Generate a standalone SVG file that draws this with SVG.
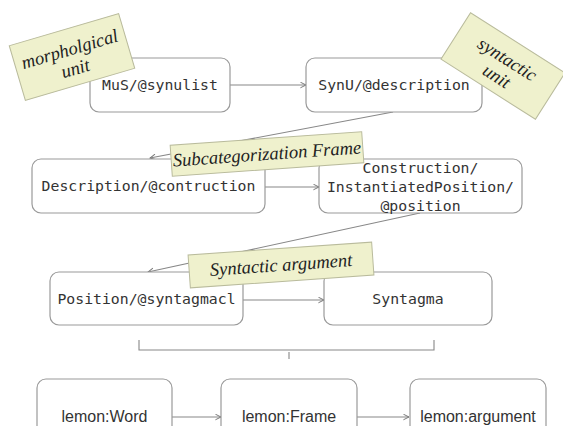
<svg xmlns="http://www.w3.org/2000/svg" width="563" height="426" viewBox="0 0 563 426">
<style>
.box{fill:#fff;stroke:#9a9a9a;stroke-width:1.2}
.mono{font-family:"DejaVu Sans Mono","Liberation Mono",monospace;font-size:14.8px;fill:#333;text-anchor:middle}
.sans{font-family:"Liberation Sans",Arial,sans-serif;font-size:16px;fill:#333;text-anchor:middle}
.note{fill:#eff1cd;stroke:#b9bb9c;stroke-width:1}
.hand{font-family:"Liberation Serif","DejaVu Serif",serif;font-style:italic;font-size:18.5px;fill:#222;text-anchor:middle}
.line{stroke:#888;stroke-width:1.1;fill:none}
</style>
<defs>
<marker id="arr" viewBox="0 0 10 10" refX="9" refY="5" markerWidth="7" markerHeight="7" orient="auto" markerUnits="userSpaceOnUse">
<path d="M1,1 L9,5 L1,9" fill="none" stroke="#777" stroke-width="1.4"/>
</marker>
</defs>
<rect width="563" height="426" fill="#fff"/>
<g id="connectors">
<line class="line" x1="230" y1="85" x2="306" y2="85" marker-end="url(#arr)"/>
<line class="line" x1="393" y1="112" x2="150" y2="158" marker-end="url(#arr)"/>
<line class="line" x1="265" y1="187" x2="319" y2="187" marker-end="url(#arr)"/>
<line class="line" x1="420" y1="213" x2="148" y2="272" marker-end="url(#arr)"/>
<line class="line" x1="243" y1="300" x2="324" y2="300" marker-end="url(#arr)"/>
<path class="line" d="M139,340 V350 H434 V340 M289,352 V359"/>
<line class="line" x1="172" y1="417" x2="221" y2="417" marker-end="url(#arr)"/>
<line class="line" x1="357" y1="417" x2="409" y2="417" marker-end="url(#arr)"/>
</g>
<g id="mus">
<rect class="box" x="90" y="58" width="140" height="54" rx="9"/>
<text class="mono" x="160" y="90">MuS/@synulist</text>
</g>
<g id="synu">
<rect class="box" x="306" y="58" width="176" height="54" rx="9"/>
<text class="mono" x="394" y="90">SynU/@description</text>
</g>
<g id="description">
<rect class="box" x="32" y="159" width="233" height="54" rx="9"/>
<text class="mono" x="148.5" y="191">Description/@contruction</text>
</g>
<g id="construction">
<rect class="box" x="319" y="159" width="203" height="54" rx="9"/>
<text class="mono" x="420.5" y="173">Construction/</text>
<text class="mono" x="420.5" y="192">InstantiatedPosition/</text>
<text class="mono" x="420.5" y="211">@position</text>
</g>
<g id="position">
<rect class="box" x="50" y="272" width="193" height="53" rx="9"/>
<text class="mono" x="146.5" y="304">Position/@syntagmacl</text>
</g>
<g id="syntagma">
<rect class="box" x="324" y="272" width="168" height="53" rx="9"/>
<text class="mono" x="408" y="304">Syntagma</text>
</g>
<g id="word">
<rect class="box" x="37" y="379" width="135" height="60" rx="9"/>
<text class="sans" x="104.5" y="422">lemon:Word</text>
</g>
<g id="frame">
<rect class="box" x="221" y="379" width="136" height="60" rx="9"/>
<text class="sans" x="289" y="422">lemon:Frame</text>
</g>
<g id="argument">
<rect class="box" x="410" y="379" width="136" height="60" rx="9"/>
<text class="sans" x="478" y="422">lemon:argument</text>
</g>
<g id="note-morph" transform="translate(72,57) rotate(-16.4)">
<rect class="note" x="-57" y="-28.5" width="114" height="57"/>
<text class="hand" x="0" y="-2">morpholgical</text>
<text class="hand" x="0" y="18">unit</text>
</g>
<g id="note-syn" transform="translate(503,66) rotate(32.5)">
<rect class="note" x="-56" y="-27.5" width="112" height="55"/>
<text class="hand" x="0" y="-2">syntactic</text>
<text class="hand" x="0" y="18">unit</text>
</g>
<g id="note-subcat" transform="translate(267,154) rotate(-4)">
<rect class="note" x="-96" y="-15.5" width="192" height="31"/>
<text class="hand" x="0" y="6">Subcategorization Frame</text>
</g>
<g id="note-synarg" transform="translate(281,265) rotate(-4)">
<rect class="note" x="-92" y="-16.5" width="184" height="33"/>
<text class="hand" x="0" y="6">Syntactic argument</text>
</g>
</svg>
